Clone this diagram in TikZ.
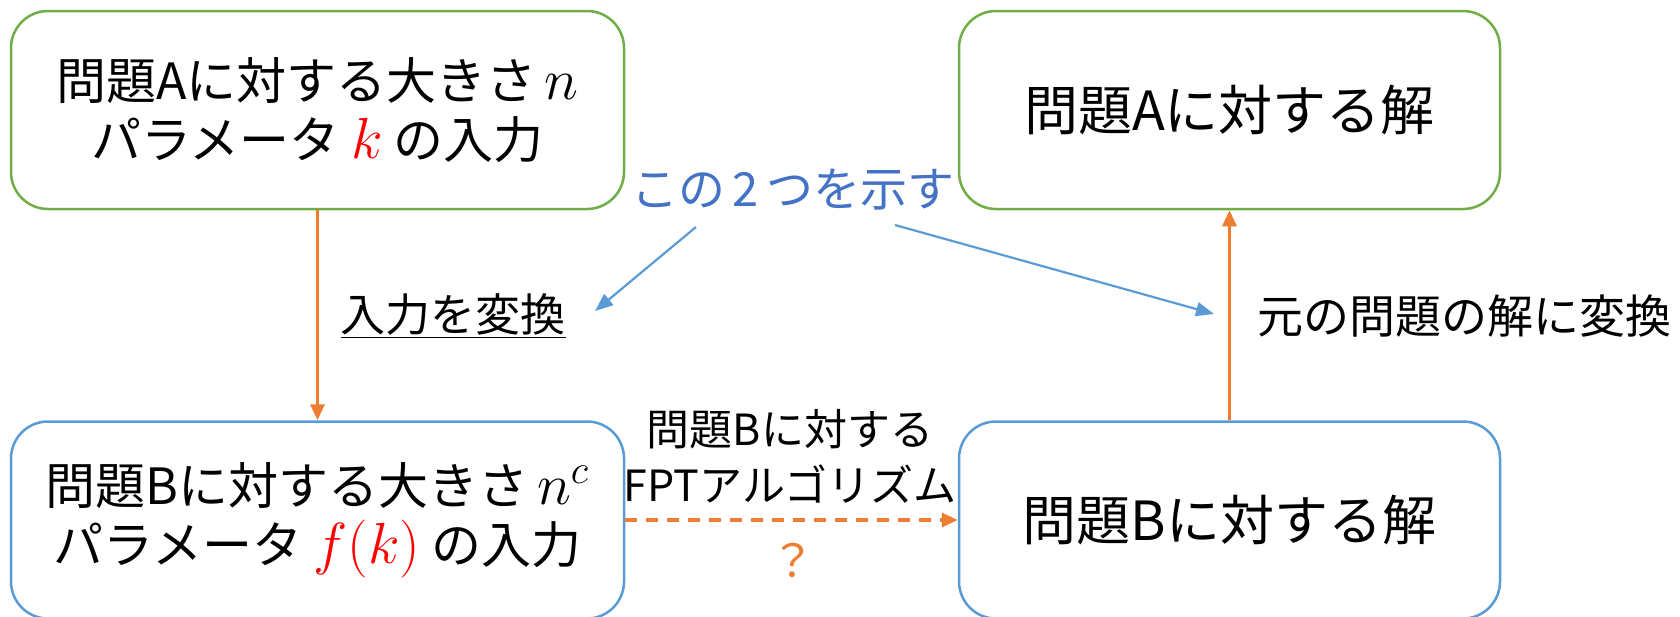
\RequirePackage{fix-cm}
\documentclass[tikz,border=0pt]{standalone}
\usepackage{fontspec}
\setmainfont{Noto Sans CJK JP}
\usetikzlibrary{arrows.meta}
\definecolor{cgreen}{HTML}{70AD47}
\definecolor{cblue}{HTML}{5B9BD5}
\definecolor{corange}{HTML}{ED7D31}
\definecolor{ctblue}{HTML}{4472C4}
\definecolor{cred}{HTML}{FF0000}
\newcommand{\mathbig}[1]{{\fontsize{29pt}{29.5pt}\selectfont$#1$}}
\begin{document}
\begin{tikzpicture}[x=0.5pt,y=-0.5pt,
  box/.style={draw, line width=1.25pt, rounded corners=18.5pt, fill=white,
    align=center, inner sep=0pt},
  greenbox/.style={box, draw=cgreen},
  bluebox/.style={box, draw=cblue},
  bigtxt/.style={font=\fontsize{25pt}{29.5pt}\selectfont},
  soltxt/.style={font=\fontsize{27pt}{32pt}\selectfont},
  lbl/.style={font=\fontsize{22.5pt}{28pt}\selectfont, inner sep=0pt, align=center},
  oarrow/.style={draw=corange, line width=1.6pt, -{Triangle[length=8pt,width=7pt]}},
  barrow/.style={draw=cblue, line width=1.1pt, -{Triangle[length=9pt,width=7pt]}},
]
\useasboundingbox (0,0) rectangle (1680,616);

\node[greenbox, bigtxt, minimum width=306.5pt, minimum height=99pt] (A) at (317.5,110)
  {問題Aに対する大きさ\,\mathbig{n}\\パラメータ \textcolor{cred}{\mathbig{k}} の入力};
\node[greenbox, soltxt, minimum width=270.5pt, minimum height=99pt] (As) at (1229.5,110)
  {問題Aに対する解};
\node[bluebox, bigtxt, minimum width=306.5pt, minimum height=98.5pt] (B) at (317.5,520)
  {問題Bに対する大きさ\,\mathbig{n^{c}}\\パラメータ \textcolor{cred}{\mathbig{f(k)}} の入力};
\node[bluebox, soltxt, minimum width=270.5pt, minimum height=98.5pt] (Bs) at (1229.5,520)
  {問題Bに対する解};

\draw[oarrow] (A.south) -- (B.north);
\draw[oarrow] (Bs.north) -- (As.south);
\draw[oarrow, dashed, dash pattern=on 6pt off 4.5pt] (B.east) -- (Bs.west);

\node[lbl] (conv) at (453,316) {\underline{入力を変換}};
\node[lbl, font=\fontsize{23pt}{28pt}\selectfont] (back) at (1464,316) {元の問題の解に変換};
\node[lbl, font=\fontsize{21.5pt}{28pt}\selectfont] (alg) at (790,456) {問題Bに対する\\FPTアルゴリズム};
\node[lbl, text=corange] (q) at (793,560) {？};
\node[lbl, text=ctblue, font=\fontsize{23.5pt}{28pt}\selectfont] (note) at (793,190) {この\,2\,つを示す};

\coordinate (n1) at (696,227);
\coordinate (t1) at (595,311);
\coordinate (n2) at (895,225);
\coordinate (t2) at (1214,314);
\draw[barrow] (n1) -- (t1);
\draw[barrow] (n2) -- (t2);
\end{tikzpicture}
\end{document}
